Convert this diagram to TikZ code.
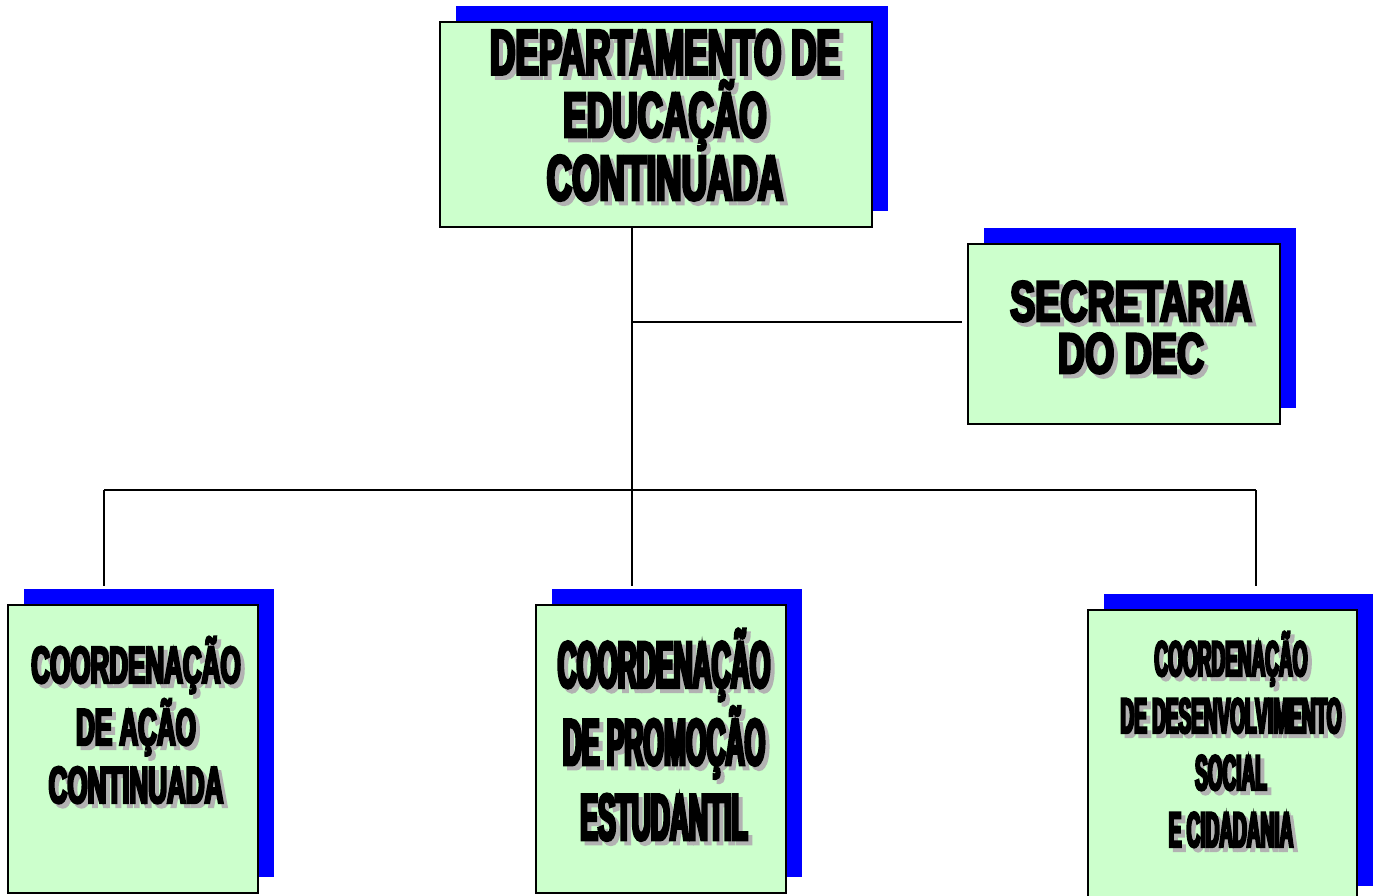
\documentclass[tikz,border=0pt]{standalone}
\usepackage{fontspec}
\usepackage{tikz}
\usetikzlibrary{calc}
\newfontfamily\deptfont[FakeStretch=0.55,FakeBold=4.5]{Liberation Sans Bold}
\newfontfamily\secfont[FakeStretch=0.66,FakeBold=4.5]{Liberation Sans Bold}
\newfontfamily\acaofont[FakeStretch=0.50,FakeBold=4.5]{Liberation Sans Bold}
\newfontfamily\promofont[FakeStretch=0.40,FakeBold=4.5]{Liberation Sans Bold}
\newfontfamily\desenvfont[FakeStretch=0.38,FakeBold=4.5]{Liberation Sans Bold}
\definecolor{boxgreen}{RGB}{204,255,204}
\definecolor{shadowgray}{RGB}{178,178,178}
\newcommand\shadowed[1]{\makebox[0pt][l]{\hspace{4pt}\raisebox{-4pt}{\color{shadowgray}#1}}#1}
\tikzstyle{unit}=[draw=black,fill=boxgreen,line width=1.6pt,inner sep=0pt]
\tikzstyle{back}=[fill=blue,inner sep=0pt]
\tikzstyle{boxtext}=[align=center,inner sep=0pt,anchor=base]
\tikzstyle{wire}=[line width=1.3pt]
\tikzstyle{deptsize}=[minimum width=432pt,minimum height=205pt]
\tikzstyle{secsize}=[minimum width=312pt,minimum height=180pt]
\tikzstyle{coordsize}=[minimum width=250pt,minimum height=288pt]
\tikzstyle{desenvsize}=[minimum width=269pt,minimum height=292pt]
\begin{document}
\begin{tikzpicture}[x=1pt,y=-1pt]
      \useasboundingbox (0,0) rectangle (1381,896);
      % blue shadows behind the boxes
      \node[back,deptsize] at (672,108.5) (deptS) {};
      \node[back,secsize] at (1140,318) (secS) {};
      \node[back,coordsize] at (149,733) (acaoS) {};
      \node[back,coordsize] at (677,733) (promoS) {};
      \node[back,desenvsize] at (1238.5,740) (desenvS) {};
      % boxes
      \node[unit,deptsize] at (656,124.5) (dept) {};
      \node[unit,secsize] at (1124,334) (sec) {};
      \node[unit,coordsize] at (133,749) (acao) {};
      \node[unit,coordsize] at (661,749) (promo) {};
      \node[unit,desenvsize] at (1222.5,756) (desenv) {};
      % texts (base = last line)
      \node[boxtext,font={\deptfont\fontsize{64}{58.5}\selectfont}] at (665,200) (deptT)
        {\shadowed{DEPARTAMENTO DE}\\\shadowed{EDUCAÇÃO}\\\shadowed{CONTINUADA}};
      \node[boxtext,font={\secfont\fontsize{57}{52}\selectfont}] at (1131,373) (secT)
        {\shadowed{SECRETARIA}\\\shadowed{DO DEC}};
      \node[boxtext,font={\acaofont\fontsize{52}{58}\selectfont}] at (136,803) (acaoT)
        {\shadowed{COORDENAÇÃO}\\\shadowed{DE AÇÃO}\\\shadowed{CONTINUADA}};
      \node[boxtext,font={\promofont\fontsize{66}{75}\selectfont}] at (664,840) (promoT)
        {\shadowed{COORDENAÇÃO}\\\shadowed{DE PROMOÇÃO}\\\shadowed{ESTUDANTIL}};
      \node[boxtext,font={\desenvfont\fontsize{50}{57}\selectfont}] at (1231,847) (desenvT)
        {\shadowed{COORDENAÇÃO}\\\shadowed{DE DESENVOLVIMENTO}\\\shadowed{SOCIAL}\\\shadowed{E CIDADANIA}};
      % connectors
      \coordinate (hub) at (632,490);
      \coordinate (secjoin) at (632,322);
      \coordinate (busL) at (104,490);
      \coordinate (busR) at (1256,490);
      \draw[wire] (dept.south -| hub)--([yshift=3pt]hub |- promoS.north);
      \draw[wire] (secjoin)--([xshift=-5pt]secjoin -| sec.west);
      \draw[wire] (busL)--(busR);
      \draw[wire] (busL)--([yshift=3pt]busL |- acaoS.north);
      \draw[wire] (busR)--([yshift=8pt]busR |- desenvS.north);
    \end{tikzpicture}
\end{document}
